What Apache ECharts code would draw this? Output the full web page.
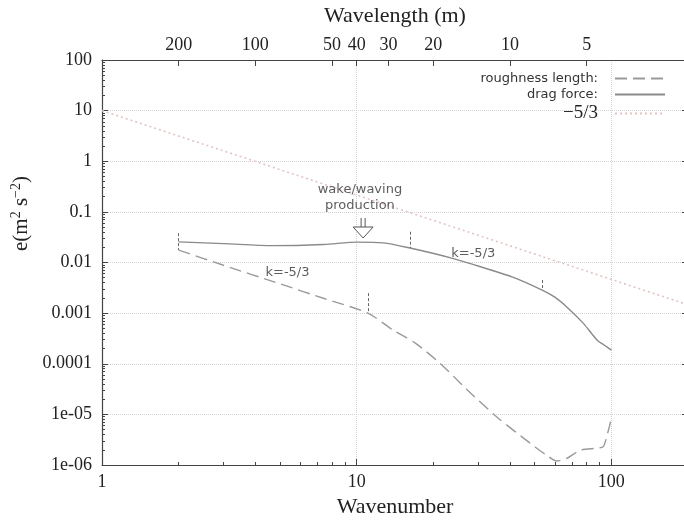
<!DOCTYPE html>
<html>
<head>
<meta charset="utf-8">
<script src="https://cdn.jsdelivr.net/npm/echarts@6.0.0/dist/echarts.min.js"></script>
<style>
  html, body { margin: 0; padding: 0; background: #fff; }
  #chart { width: 684px; height: 522px; }
</style>
</head>
<body>
<div id="chart"></div>
<script>
// axis ranges
const kMin = 1, kMax = 200;
const eMin = 1e-6, eMax = 100;

// tick labels
const yTickLabels = ['1e-06', '1e-05', '0.0001', '0.001', '0.01', '0.1', '1', '10', '100'];
// top axis: wavelength (m) = 400 / wavenumber
const wavelengthTicks = [200, 100, 50, 40, 30, 20, 10, 5];
const minorSteps = [2, 3, 4, 5, 6, 7, 8, 9];

// drag force
const dragK = [2, 3, 4.7, 7.4, 10.1, 12.7, 16.2, 23.6, 32, 41, 53.5, 60, 67, 77.5, 88, 94, 100];
const dragE = [0.0256, 0.0236, 0.0215, 0.0227, 0.0253, 0.0244, 0.0193, 0.0122, 0.0077, 0.00514, 0.00285, 0.00207, 0.00131, 0.000634, 0.000292, 0.000232, 0.000186];

// roughness length
const roughK = [2, 3, 5, 7.5, 11.07, 13.9, 17, 21.2, 27, 35.6, 48, 55, 61, 67, 75.5, 88, 93, 97, 100];
const roughE = [0.0176, 0.00881, 0.00379, 0.00192, 0.001, 0.000461, 0.000255, 0.000103, 3.15e-5, 8.8e-6, 2.7e-6, 1.63e-6, 1.2e-6, 1.36e-6, 1.96e-6, 2.15e-6, 2.3e-6, 4.5e-6, 8.3e-6];

// -5/3 reference line
const slopeK = [1, 200];
const slopeE = [10, 0.00146];

// short vertical range marks
const markK = [2, 11.07, 16.2, 53.5];
const markTop = [0.038, 0.00248, 0.0405, 0.0045];
const markBottom = [0.0176, 0.001, 0.0193, 0.00285];

// text notes
const noteK = [10.3, 5.35, 28.7];
const noteE = [0.19, 0.00625, 0.0153];
const noteText = ['wake/waving\nproduction', 'k=-5/3', 'k=-5/3'];
const arrowK = 10.6, arrowE = 0.048;

const serif = '"Liberation Serif", "DejaVu Serif", serif';
const sans = '"DejaVu Sans", sans-serif';
const axisColor = '#444';

const pairs = (xs, ys) => xs.map((x, i) => [x, ys[i]]);
const minorX = [];
[0, 1, 2].forEach(d => minorSteps.forEach(s => {
  const v = d + Math.log10(s);
  if (v < Math.log10(kMax)) minorX.push(v);
}));
const minorY = [];
for (let d = -6; d < 2; d++) minorSteps.forEach(s => minorY.push(d + Math.log10(s)));

const tickLabelStyle = { fontFamily: serif, fontSize: 18, color: '#222' };
const topTicks = wavelengthTicks.map(w => Math.log10(400 / w));

const chart = echarts.init(document.getElementById('chart'));
chart.setOption({
  animation: false,
  backgroundColor: '#fff',
  grid: { left: 102, right: -4, top: 60, bottom: 57, outerBoundsMode: 'none' },
  legend: {
    orient: 'vertical',
    right: 13,
    top: 67,
    align: 'right',
    itemWidth: 50,
    itemHeight: 14,
    itemGap: 3,
    itemStyle: { color: 'rgba(0,0,0,0)', borderWidth: 0 },
    textStyle: { fontFamily: sans, fontSize: 13, color: '#333', padding: [0, 12, 0, 0] },
    data: [
      { name: 'roughness length:' },
      { name: 'drag force:' },
      { name: '\u22125/3', textStyle: { fontFamily: serif, fontSize: 19, color: '#222', padding: [0, 12, 0, 0] } }
    ]
  },
  xAxis: [
    {
      type: 'log', logBase: 10, min: kMin, max: kMax, position: 'bottom',
      name: 'Wavenumber', nameLocation: 'middle', nameGap: 30,
      nameTextStyle: { fontFamily: serif, fontSize: 22, color: '#222' },
      axisLine: { show: true, onZero: false, lineStyle: { color: axisColor, width: 1.2 } },
      axisTick: { show: true, inside: true, length: 6, lineStyle: { color: axisColor } },
      axisLabel: {
        ...tickLabelStyle, margin: 8,
        formatter: v => {
          const l = Math.log10(v);
          return Math.abs(l - Math.round(l)) < 1e-6 ? String(Math.round(v)) : '';
        }
      },
      splitLine: { show: true, lineStyle: { color: '#d2d2d2', type: 'dotted', width: 1 } }
    },
    {
      type: 'value', min: 0, max: Math.log10(kMax), position: 'bottom',
      axisLine: { show: false, onZero: false },
      axisTick: { show: true, inside: true, length: 3, customValues: minorX, lineStyle: { color: axisColor } },
      axisLabel: { show: false },
      splitLine: { show: false }
    },
    {
      type: 'value', min: 0, max: Math.log10(kMax), position: 'top',
      name: 'Wavelength (m)', nameLocation: 'middle', nameGap: 33,
      nameTextStyle: { fontFamily: serif, fontSize: 22, color: '#222' },
      axisLine: { show: true, onZero: false, lineStyle: { color: axisColor, width: 1.2 } },
      axisTick: { show: true, inside: true, length: 6, customValues: topTicks, lineStyle: { color: axisColor } },
      axisLabel: {
        ...tickLabelStyle, margin: 6,
        customValues: topTicks,
        formatter: v => String(Math.round(400 / Math.pow(10, v)))
      },
      splitLine: { show: false }
    }
  ],
  yAxis: [
    {
      type: 'log', logBase: 10, min: eMin, max: eMax, position: 'left', splitNumber: 8,
      name: 'e(m{sup|2} s{sup|\u22122})', nameLocation: 'middle', nameGap: 66, nameRotate: 90,
      nameTextStyle: {
        fontFamily: serif, fontSize: 21, color: '#222', padding: [0, 0, 0, 98],
        rich: { sup: { fontFamily: serif, fontSize: 14, color: '#222', verticalAlign: 'top', padding: [0, 0, 10, 0] } }
      },
      axisLine: { show: true, onZero: false, lineStyle: { color: axisColor, width: 1.2 } },
      axisTick: { show: true, inside: true, length: 6, lineStyle: { color: axisColor } },
      axisLabel: {
        ...tickLabelStyle, margin: 10,
        formatter: v => yTickLabels[Math.round(Math.log10(v)) + 6] || ''
      },
      splitLine: { show: true, lineStyle: { color: '#d2d2d2', type: 'dotted', width: 1 } }
    },
    {
      type: 'value', min: -6, max: 2, position: 'left',
      axisLine: { show: false, onZero: false },
      axisTick: { show: true, inside: true, length: 3, customValues: minorY, lineStyle: { color: axisColor } },
      axisLabel: { show: false },
      splitLine: { show: false }
    },
    {
      type: 'value', min: -6, max: 2, interval: 1, position: 'right',
      axisLine: { show: true, onZero: false, lineStyle: { color: axisColor, width: 1.2 } },
      axisTick: { show: true, inside: true, length: 6, lineStyle: { color: axisColor } },
      axisLabel: { show: false },
      splitLine: { show: false }
    }
  ],
  series: [
    {
      name: 'roughness length:', type: 'line', xAxisIndex: 0, yAxisIndex: 0,
      data: pairs(roughK, roughE), symbol: 'none', smooth: 0.25,
      lineStyle: { color: '#9a9a9a', width: 1.4, type: [12, 6] }, z: 3
    },
    {
      name: 'drag force:', type: 'line', xAxisIndex: 0, yAxisIndex: 0,
      data: pairs(dragK, dragE), symbol: 'none', smooth: 0.3,
      lineStyle: { color: '#8a8a8a', width: 1.4, type: 'solid' }, z: 3,
      markLine: {
        silent: true, symbol: 'none', label: { show: false },
        lineStyle: { color: '#666', width: 1, type: [3, 2] },
        data: markK.map((k, i) => [{ coord: [k, markTop[i]] }, { coord: [k, markBottom[i]] }])
      }
    },
    {
      name: '\u22125/3', type: 'line', xAxisIndex: 0, yAxisIndex: 0,
      data: pairs(slopeK, slopeE), symbol: 'none',
      lineStyle: { color: '#e2c4c4', width: 1.6, type: [2, 3] }, z: 2
    },
    {
      name: 'notes', type: 'scatter', xAxisIndex: 0, yAxisIndex: 0,
      data: pairs(noteK, noteE), symbolSize: 1,
      itemStyle: { color: 'rgba(0,0,0,0)' },
      label: {
        show: true, position: 'inside', fontFamily: sans, fontSize: 13, color: '#333', lineHeight: 16,
        formatter: p => noteText[p.dataIndex]
      },
      silent: true, z: 4,
      markPoint: {
        silent: true,
        symbol: 'path://M8,0 L8,9 M12,0 L12,9 M0,9 L20,9 L10,20 Z',
        symbolSize: [20, 20],
        itemStyle: { color: '#fff', borderColor: '#555', borderWidth: 1 },
        label: { show: false },
        data: [{ coord: [arrowK, arrowE] }]
      }
    }
  ]
});
</script>
</body>
</html>
